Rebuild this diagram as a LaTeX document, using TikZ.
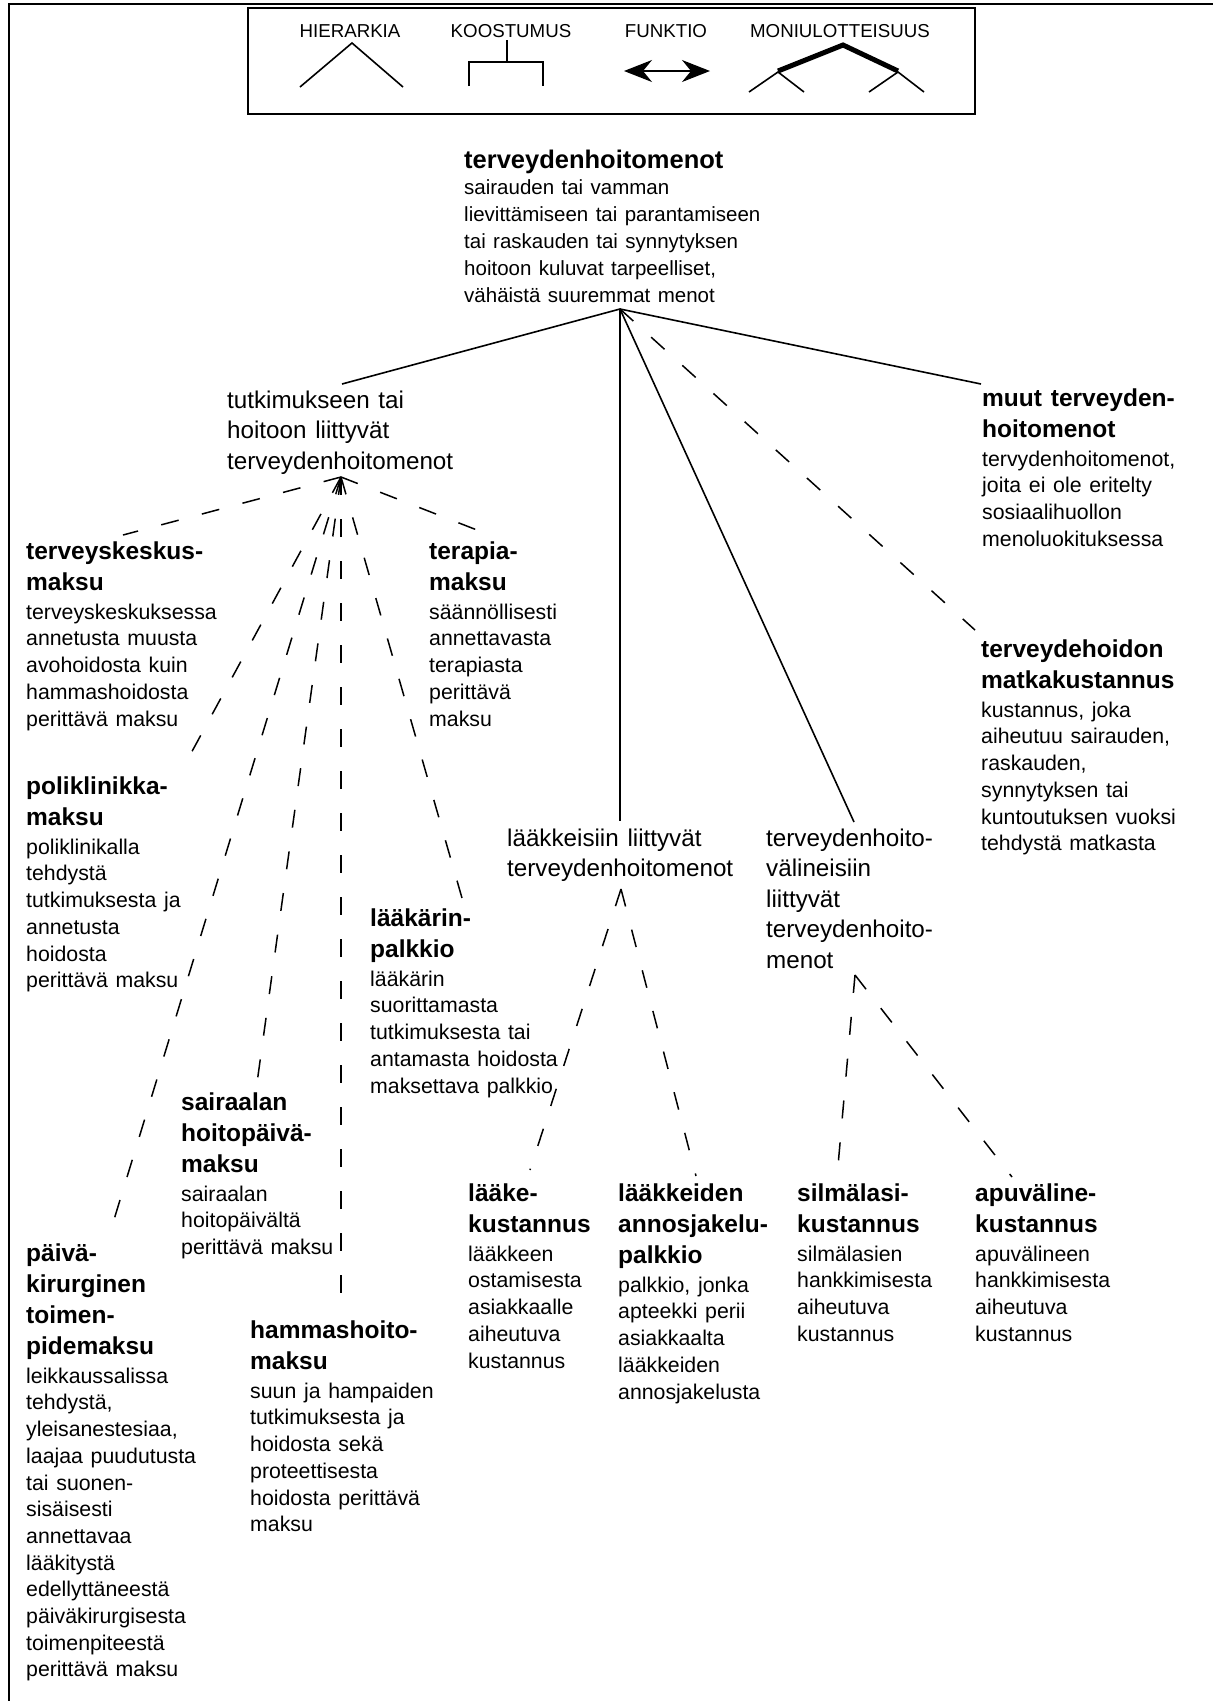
\documentclass[tikz,border=0pt]{standalone}
\usepackage{fontspec}
\setmainfont{Liberation Sans}
\usetikzlibrary{arrows.meta}
\usetikzlibrary{positioning,calc}
\newcommand{\rootTitle}{\fontsize{25.5}{26.8}\selectfont\bfseries\spaceskip=.36em}
\newcommand{\rootDesc}{\par\fontsize{20.5}{26.8}\selectfont\mdseries\spaceskip=.36em}
\newcommand{\midText}{\fontsize{24.2}{30.5}\selectfont\spaceskip=.36em}
\newcommand{\nodeTitle}{\fontsize{24.5}{31}\selectfont\bfseries\spaceskip=.36em}
\newcommand{\nodeDesc}{\par\vskip2.5pt\fontsize{21.3}{26.7}\selectfont\mdseries\spaceskip=.36em}
\tikzset{every node/.style={align=left},
		termBox/.style={anchor=base west,inner sep=0pt,text width=300pt},
		legendText/.style={anchor=base,inner sep=0pt,font=\fontsize{18.7}{22}\selectfont},
		frame/.style={line width=2pt},
		hierEdge/.style={line width=1.6pt},
		aspectEdge/.style={line width=1.5pt,dash pattern=on 18pt off 24pt},
		multiEdge/.style={line width=5pt},
		funcArrow/.style={line width=1.2pt,
		                  {Stealth[length=28pt,width=22pt,inset=9pt]}-{Stealth[length=28pt,width=22pt,inset=9pt]}}}

\begin{document}
\begin{tikzpicture}[x=1pt,y=-1pt]
\useasboundingbox[fill=white] (0,0) rectangle (1213,1701);
\draw[frame] (1213,4) -- (9,4) -- (9,1701);

% legend
\draw[frame] (248,8) rectangle (975,114);
\node[legendText] (legHier) at (350,37) {HIERARKIA};
\node[legendText] (legKoos) at (511,37) {KOOSTUMUS};
\node[legendText] (legFunk) at (666,37) {FUNKTIO};
\node[legendText] (legMoni) at (840,37) {MONIULOTTEISUUS};
\draw[hierEdge] (300,87) -- (352,43) -- (403,87);
\draw[hierEdge] (507,40) -- (507,62) (469,86) -- (469,62) -- (543,62) -- (543,86);
\draw[funcArrow] (624,71) -- (710,71);
\draw[multiEdge] (778,71) -- (843,45) -- (898,71);
\draw[hierEdge] (749,92) -- (778,72) -- (804,92) (869,92) -- (898,72) -- (924,92);

% top level
\node[termBox] (root) at (464,168) {\rootTitle terveydenhoitomenot\rootDesc sairauden tai vamman\\lievittämiseen tai parantamiseen\\tai raskauden tai synnytyksen\\hoitoon kuluvat tarpeelliset,\\vähäistä suuremmat menot\par};

% second level
\node[termBox] (tutk) at (227,408) {\midText tutkimukseen tai\\hoitoon liittyvät\\terveydenhoitomenot\par};
\node[termBox] (laakk) at (507,846) {\midText lääkkeisiin liittyvät\\terveydenhoitomenot\par};
\node[termBox] (valin) at (766,846) {\midText terveydenhoito-\\välineisiin\\liittyvät\\terveydenhoito-\\menot\par};
\node[termBox] (muut) at (982,406) {\nodeTitle muut terveyden-\\hoitomenot\nodeDesc tervydenhoitomenot,\\joita ei ole eritelty\\sosiaalihuollon\\menoluokituksessa\par};
\node[termBox] (matka) at (981,657) {\nodeTitle terveydehoidon\\matkakustannus\nodeDesc kustannus, joka\\aiheutuu sairauden,\\raskauden,\\synnytyksen tai\\kuntoutuksen vuoksi\\tehdystä matkasta\par};

% payments
\node[termBox] (kesk) at (26,559) {\nodeTitle terveyskeskus-\\maksu\nodeDesc terveyskeskuksessa\\annetusta muusta\\avohoidosta kuin\\hammashoidosta\\perittävä maksu\par};
\node[termBox] (terap) at (429,559) {\nodeTitle terapia-\\maksu\nodeDesc säännöllisesti\\annettavasta\\terapiasta\\perittävä\\maksu\par};
\node[termBox] (polik) at (26,794) {\nodeTitle poliklinikka-\\maksu\nodeDesc poliklinikalla\\tehdystä\\tutkimuksesta ja\\annetusta\\hoidosta\\perittävä maksu\par};
\node[termBox] (laakari) at (370,926) {\nodeTitle lääkärin-\\palkkio\nodeDesc lääkärin\\suorittamasta\\tutkimuksesta tai\\antamasta hoidosta\\maksettava palkkio\par};
\node[termBox] (sairaala) at (181,1110) {\nodeTitle sairaalan\\hoitopäivä-\\maksu\nodeDesc sairaalan\\hoitopäivältä\\perittävä maksu\par};
\node[termBox] (paiva) at (26,1261) {\nodeTitle päivä-\\kirurginen\\toimen-\\pidemaksu\nodeDesc leikkaussalissa\\tehdystä,\\yleisanestesiaa,\\laajaa puudutusta\\tai suonen-\\sisäisesti\\annettavaa\\lääkitystä\\edellyttäneestä\\päiväkirurgisesta\\toimenpiteestä\\perittävä maksu\par};
\node[termBox] (hammas) at (250,1338) {\nodeTitle hammashoito-\\maksu\nodeDesc suun ja hampaiden\\tutkimuksesta ja\\hoidosta sekä\\proteettisesta\\hoidosta perittävä\\maksu\par};

% costs
\node[termBox] (laake) at (468,1201) {\nodeTitle lääke-\\kustannus\nodeDesc lääkkeen\\ostamisesta\\asiakkaalle\\aiheutuva\\kustannus\par};
\node[termBox] (annos) at (618,1201) {\nodeTitle lääkkeiden\\annosjakelu-\\palkkio\nodeDesc palkkio, jonka\\apteekki perii\\asiakkaalta\\lääkkeiden\\annosjakelusta\par};
\node[termBox] (silma) at (797,1201) {\nodeTitle silmälasi-\\kustannus\nodeDesc silmälasien\\hankkimisesta\\aiheutuva\\kustannus\par};
\node[termBox] (apuv) at (975,1201) {\nodeTitle apuväline-\\kustannus\nodeDesc apuvälineen\\hankkimisesta\\aiheutuva\\kustannus\par};

% hubs
\coordinate (rootHub) at ($(root.base west)+(156,141)$);
\coordinate (tutkHub) at ($(tutk.base west)+(114,69)$);
\coordinate (laakkHub) at ($(laakk.base west)+(114,43)$);
\coordinate (valinHub) at ($(valin.base west)+(89,129)$);

% edges
\draw[hierEdge] (rootHub) -- ($(tutk.base west)+(115,-24)$);
\draw[hierEdge] (rootHub) -- ($(laakk.base west)+(113,-25)$);
\draw[hierEdge] (rootHub) -- ($(valin.base west)+(88,-24)$);
\draw[hierEdge] (rootHub) -- ($(muut.base west)+(-1,-22)$);
\draw[aspectEdge] (rootHub) -- ($(matka.base west)+(-6,-27)$);
\foreach \kid/\dx/\dy in {kesk/97/-24,terap/48/-29,polik/157/-26,paiva/83/-25,sairaala/76/-27,hammas/91/-41,laakari/92/-28}
	\draw[aspectEdge] (tutkHub) -- ($(\kid.base west)+(\dx,\dy)$);
\foreach \kid/\dx/\dy in {laake/62/-31,annos/78/-25}
	\draw[aspectEdge] (laakkHub) -- ($(\kid.base west)+(\dx,\dy)$);
\foreach \kid/\dx/\dy in {silma/40/-24,apuv/37/-24}
	\draw[aspectEdge] (valinHub) -- ($(\kid.base west)+(\dx,\dy)$);
\end{tikzpicture}
\end{document}
